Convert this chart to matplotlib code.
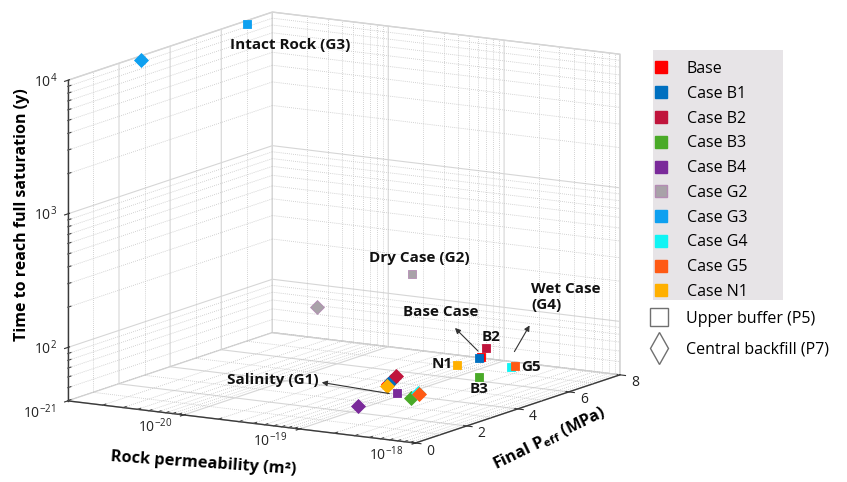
import numpy as np
import matplotlib.pyplot as plt
from matplotlib.lines import Line2D
from matplotlib.patches import FancyArrowPatch, Rectangle
from mpl_toolkits.mplot3d import proj3d

plt.rcParams['font.family'] = ['Open Sans', 'DejaVu Sans']
plt.rcParams['mathtext.fontset'] = 'custom'
plt.rcParams['mathtext.rm'] = 'Open Sans'
plt.rcParams['mathtext.it'] = 'Open Sans:italic'
plt.rcParams['mathtext.bf'] = 'Open Sans:bold'
plt.rcParams['grid.color'] = '#d6d6d6'
plt.rcParams['grid.linewidth'] = 0.8

W, H = 847, 482

cases = ['Base', 'Case B1', 'Case B2', 'Case B3', 'Case B4',
         'Case G2', 'Case G3', 'Case G4', 'Case G5', 'Case N1']
colors = ['#ff0000', '#0070c0', '#c0143c', '#4aaa28', '#7a2a9a',
          '#a8a2a8', '#0ea0f0', '#10f4f4', '#ff5a14', '#ffb000']
edges = ['#ff0000', '#0070c0', '#c0143c', '#4aaa28', '#7a2a9a',
         '#b48cb4', '#0ea0f0', '#10f4f4', '#ff5a14', '#ffb000']

# log10 of rock permeability (m2), one value per case
perm = [-18.6, -18.6, -18.6, -18.6, -18.6, -19.5, -21.0, -18.3, -18.6, -18.6]
# upper buffer (P5): final effective pressure (MPa) and time to full saturation (y)
p5_peff = [5.3, 5.2, 5.5, 5.2, 2.0, 6.65, 7.0, 5.1, 6.6, 4.35]
p5_time = [70, 70, 79, 50, 61, 193, 9400, 65, 49, 70]
# central backfill (P7)
p7_peff = [1.65, 1.75, 1.95, 2.55, 0.47, 2.95, 2.85, 1.45, 2.85, 1.6]
p7_time = [75, 77, 82, 51, 61, 188, 9300, 71, 53, 73]

x_ticks = [-21, -20, -19, -18]
x_labels = [r'$10^{-21}$', r'$10^{-20}$', r'$10^{-19}$', r'$10^{-18}$']
y_ticks = [0, 2, 4, 6, 8]
z_ticks = [2, 3, 4]
z_labels = [r'$10^{2}$', r'$10^{3}$', r'$10^{4}$']
zmin, zmax = 1.6, 4.0

fig = plt.figure(figsize=(W / 100, H / 100), dpi=100)
ax = fig.add_axes([0.05, 0.05, 0.8, 0.8], projection='3d', proj_type='ortho')
ax.computed_zorder = False
ax.view_init(elev=11.6, azim=-58.9)
ax.set_box_aspect((1.24, 1.21, 1.0))
ax.set_xlim(-21, -18)
ax.set_ylim(0, 8)
ax.set_zlim(zmin, zmax)
ax.zaxis.set_ticks_position('lower')

for axis in (ax.xaxis, ax.yaxis, ax.zaxis):
    axis.set_pane_color((1, 1, 1, 1))
    axis.pane.set_edgecolor('#cfcfcf')
    axis.line.set_color('#3a3a3a')
    axis.line.set_linewidth(1.0)

ax.set_xticks(x_ticks)
ax.set_yticks(y_ticks)
ax.set_zticks(z_ticks)
ax.set_xticklabels([])
ax.set_yticklabels([])
ax.set_zticklabels([])
ax.tick_params(axis='both', colors='#333333')

# minor (dotted) grid on the three back panes
mc = dict(color='#c4c4c4', lw=0.6, ls=(0, (1, 1.5)), zorder=1)
tc = dict(color='#444444', lw=0.8, zorder=2)
minor_x = [n + np.log10(k) for n in (-21, -20, -19) for k in range(2, 10)]
for xm in minor_x:
    ax.plot([xm, xm], [0, 8], [zmin, zmin], **mc)
    ax.plot([xm, xm], [8, 8], [zmin, zmax], **mc)
    ax.plot([xm, xm], [0, 0.12], [zmin, zmin], **tc)
minor_z = [n + np.log10(k) for n in (1, 2, 3) for k in range(2, 10)]
minor_z = [z for z in minor_z if zmin < z < zmax]
for zm in minor_z:
    ax.plot([-21, -21], [0, 8], [zm, zm], **mc)
    ax.plot([-21, -18], [8, 8], [zm, zm], **mc)
    ax.plot([-21, -21], [0, 0.12], [zm, zm], **tc)
for ym in [1, 3, 5, 7]:
    ax.plot([-21, -18], [ym, ym], [zmin, zmin], **mc)
    ax.plot([-21, -21], [ym, ym], [zmin, zmax], **mc)

for i in range(len(cases)):
    ax.scatter(perm[i], p7_peff[i], np.log10(p7_time[i]), marker='D', s=50,
               c=colors[i], edgecolors=edges[i], linewidths=0.6,
               depthshade=False, zorder=5)
for i in range(len(cases)):
    ax.scatter(perm[i], p5_peff[i], np.log10(p5_time[i]), marker='s', s=34,
               c=colors[i], edgecolors=edges[i], linewidths=0.6,
               depthshade=False, zorder=6)


def to_px(x, y, z):
    px, py, _ = proj3d.proj_transform(np.atleast_1d(np.asarray(x, float)),
                                      np.atleast_1d(np.asarray(y, float)),
                                      np.atleast_1d(np.asarray(z, float)),
                                      ax.get_proj())
    return ax.transData.transform(np.column_stack([px, py]))


# fit the box to the reference layout
fig.canvas.draw()
pos = ax.get_position()
S0 = pos.width * W
o0 = np.array([pos.x0 * W, pos.y0 * H])
corners = np.array([[-21, 0, zmin], [-18, 0, zmin], [-18, 8, zmin], [-21, 0, zmax]])
target = np.array([[68, 401], [415, 443], [620, 375], [68, 80]], float)
target[:, 1] = H - target[:, 1]
q = (to_px(corners[:, 0], corners[:, 1], corners[:, 2]) - o0) / S0
A = np.zeros((8, 3))
b = np.zeros(8)
for k in range(4):
    A[2 * k] = [1, 0, q[k, 0]]
    A[2 * k + 1] = [0, 1, q[k, 1]]
    b[2 * k], b[2 * k + 1] = target[k]
ox, oy, S = np.linalg.lstsq(A, b, rcond=None)[0]
ax.set_position([ox / W, oy / H, S / W, S / H])
fig.canvas.draw()


def fp(x, y):
    return (x / W, 1 - y / H)


def tick_text(pt, dx, dy, s):
    fig.text((pt[0] + dx) / W, (pt[1] - dy) / H, s, ha='center', va='center',
             fontsize=10, color='#222222')


for t, s in zip(x_ticks, x_labels):
    tick_text(to_px(t, 0, zmin)[0], -29, 12, s)
for t in y_ticks:
    tick_text(to_px(-18, t, zmin)[0], 15, 8, str(t))
for t, s in zip(z_ticks, z_labels):
    tick_text(to_px(-21, 0, t)[0], -22, 1, s)

# axis titles
fig.text(*fp(22, 215), 'Time to reach full saturation (y)', rotation=90,
         ha='center', va='center', fontsize=11.5, fontweight='bold')
fig.text(*fp(203, 464), 'Rock permeability (m²)', rotation=-4,
         ha='center', va='center', fontsize=11.8, fontweight='bold')
fig.text(*fp(550, 438), r'$\mathbf{Final\ P_{eff}\ (MPa)}$', rotation=26,
         ha='center', va='center', fontsize=11.8)

# annotations
notes = [('Intact Rock (G3)', 290, 45), ('Dry Case (G2)', 419, 258),
         ('Base Case', 441, 312), ('B2', 491, 337), ('N1', 442, 364),
         ('G5', 531, 367), ('B3', 479, 389), ('Salinity (G1)', 273, 380)]
for s, x, y in notes:
    fig.text(*fp(x, y), s, ha='center', va='center', fontsize=11,
             fontweight='bold', color='#111111')
fig.text(*fp(531, 297), 'Wet Case\n(G4)', ha='left', va='center', fontsize=11,
         fontweight='bold', color='#111111', linespacing=1.25)

arrows = [((480, 353), (453, 326)), ((513, 354), (531, 323)), ((392, 394), (319, 382))]
for a, b2 in arrows:
    fig.add_artist(FancyArrowPatch(fp(*a), fp(*b2), transform=fig.transFigure,
                                   arrowstyle='-|>', mutation_scale=8, lw=0.8,
                                   color='#333333'))

# legends
fig.add_artist(Rectangle(fp(648, 300), 135 / W, 250 / H, transform=fig.transFigure,
                         facecolor='#e7e4e7', edgecolor='none', zorder=0))
h1 = [Line2D([], [], ls='none', marker='s', ms=9, mfc=colors[i], mec=edges[i])
      for i in range(len(cases))]
fig.legend(h1, cases, loc='upper left', bbox_to_anchor=fp(653, 61),
           frameon=False, prop={'family': 'Open Sans', 'size': 11.5},
           labelspacing=0.55, handletextpad=1.1, handlelength=1.0,
           borderpad=0.0, borderaxespad=0)
h2 = [Line2D([], [], ls='none', marker='s', ms=13, mfc='white', mec='#707070', mew=1.0),
      Line2D([], [], ls='none', marker='d', ms=16, mfc='white', mec='#707070', mew=1.0)]
fig.legend(h2, ['Upper buffer (P5)', 'Central backfill (P7)'], loc='upper left',
           bbox_to_anchor=fp(651, 311), frameon=False,
           prop={'family': 'Open Sans', 'size': 11.5}, labelspacing=0.9,
           handletextpad=1.2, handlelength=1.0, borderpad=0.0, borderaxespad=0)

fig.savefig('out.png', dpi=100)
